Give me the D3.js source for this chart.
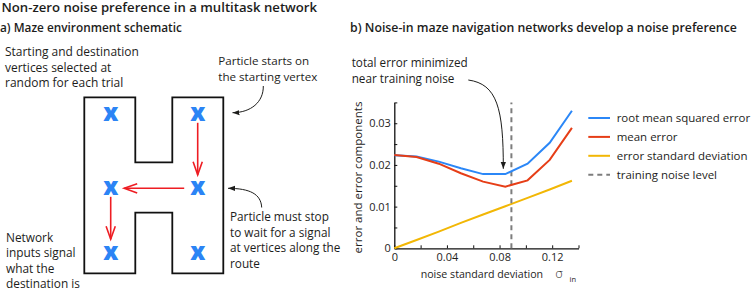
<!DOCTYPE html>
<html><head><meta charset="utf-8">
<script src="https://cdn.jsdelivr.net/npm/d3@7"></script>
<style>body{margin:0;background:#fff} svg{display:block}</style>
</head><body><svg id="c" width="751" height="294"></svg>
<script>
// ---------- data ----------
const noiseLevels = [0, 0.0169, 0.0338, 0.0506, 0.0675, 0.0844, 0.1013, 0.1181, 0.135];
const rmseValues  = [0.0223, 0.0220, 0.0208, 0.0192, 0.0178, 0.0178, 0.0203, 0.0253, 0.0330];
const meanErrorValues = [0.0224, 0.0219, 0.0203, 0.0180, 0.0160, 0.0148, 0.0163, 0.0212, 0.0289];
const errorSDValues = [0, 0.0020, 0.0040, 0.0061, 0.0081, 0.0101, 0.0121, 0.0141, 0.0162];
const trainingNoise = 0.089;
const xTickValues = [0, 0.02, 0.04, 0.06, 0.08, 0.10, 0.12, 0.14];
const xTickLabels = ["0", "", "0.04", "", "0.08", "", "0.12", ""];
const yTickValues = [0, 0.005, 0.01, 0.015, 0.02, 0.025, 0.03, 0.035];
const yTickLabels = ["0", "", "0.01", "", "0.02", "", "0.03", ""];
const legendLabels = ["root mean squared error", "mean error", "error standard deviation", "training noise level"];
// maze schematic: vertices (column,row) and the example route
const mazeVertices = [[0,0],[1,0],[0,1],[1,1],[0,2],[1,2]];
const mazeRoute = [[1,0],[1,1],[0,1],[0,2]];

// ---------- setup ----------
const FONT = "'Open Sans', 'Noto Sans', sans-serif";
const INK = "#1d1d1b";
const svg = d3.select("#c").style("font-family", FONT);
const defs = svg.append("defs");
defs.append("marker").attr("id","ah").attr("markerUnits","userSpaceOnUse")
  .attr("markerWidth",9).attr("markerHeight",7).attr("refX",7).attr("refY",3.5)
  .attr("orient","auto")
  .append("path").attr("d","M0,0.8 L7,3.5 L0,6.2 Z").attr("fill",INK);

function textBlock(lines, x, baselines, refIndex, targetWidth, weight) {
  const g = svg.append("g");
  const ts = lines.map((s, i) => g.append("text").attr("x", x).attr("y", baselines[i])
      .attr("font-size", 12).attr("font-weight", weight || 400).attr("fill", INK).text(s));
  const w = ts[refIndex].node().getComputedTextLength();
  const fs = 12 * targetWidth / w;
  ts.forEach(t => t.attr("font-size", fs));
  return g;
}

// ---------- titles ----------
textBlock(["Non-zero noise preference in a multitask network"], 1.5, [12], 0, 316, 600);
textBlock(["a) Maze environment schematic"], 0, [32], 0, 182, 600);
textBlock(["b) Noise-in maze navigation networks develop a noise preference"], 350, [32], 0, 387, 600);

// ---------- panel a: maze ----------
const colX = d3.scalePoint().domain([0,1]).range([110.7, 197.7]);
const rowY = d3.scaleOrdinal().domain([0,1,2]).range([114.3, 188.3, 252.7]);
const maze = {left: 84.3, right: 223.3, top: 97.3, bottom: 273.3, notchL: 135.3, notchR: 172.3, notchTop: 162.3, notchBottom: 212.7};
const outline = d3.path();
outline.moveTo(maze.left, maze.top);
outline.lineTo(maze.notchL, maze.top); outline.lineTo(maze.notchL, maze.notchTop);
outline.lineTo(maze.notchR, maze.notchTop); outline.lineTo(maze.notchR, maze.top);
outline.lineTo(maze.right, maze.top); outline.lineTo(maze.right, maze.bottom);
outline.lineTo(maze.notchR, maze.bottom); outline.lineTo(maze.notchR, maze.notchBottom);
outline.lineTo(maze.notchL, maze.notchBottom); outline.lineTo(maze.notchL, maze.bottom);
outline.lineTo(maze.left, maze.bottom); outline.closePath();
svg.append("path").attr("d", outline.toString()).attr("fill","none")
  .attr("stroke", "#111").attr("stroke-width", 1.8).attr("stroke-linejoin","miter");

svg.append("g").selectAll("text").data(mazeVertices).join("text")
  .attr("x", d => colX(d[0])).attr("y", d => rowY(d[1]) + 6.8)
  .attr("text-anchor","middle").attr("font-family","'Open Sans', sans-serif")
  .attr("font-weight",800).attr("font-size",24).attr("fill","#2b84f5").text("x");

const routeSegs = d3.pairs(mazeRoute);
const arrowG = svg.append("g").attr("stroke","#ee1d23").attr("stroke-width",1.6).attr("fill","none");
routeSegs.forEach(([a, b]) => {
  const x0 = colX(a[0]), y0 = rowY(a[1]), x1 = colX(b[0]), y1 = rowY(b[1]);
  const len = Math.hypot(x1-x0, y1-y0), ux = (x1-x0)/len, uy = (y1-y0)/len;
  const horiz = Math.abs(ux) > 0.5;
  const s0 = horiz ? 13.5 : 8.5, s1 = 13.5;
  const sx = x0 + ux*s0, sy = y0 + uy*s0, tx = x1 - ux*s1, ty = y1 - uy*s1;
  arrowG.append("line").attr("x1", sx).attr("y1", sy).attr("x2", tx).attr("y2", ty);
  const hl = 13, hw = 4.6, px = -uy, py = ux;
  arrowG.append("path").attr("d",
    `M${tx - ux*hl + px*hw},${ty - uy*hl + py*hw} L${tx},${ty} L${tx - ux*hl - px*hw},${ty - uy*hl - py*hw}`);
});

// annotations panel a
textBlock(["Starting and destination","vertices selected at","random for each trial"], 5, [56.3, 71.5, 86.8], 0, 134);
textBlock(["Particle starts on","the starting vertex"], 218.3, [65, 80.7], 0, 91);
textBlock(["Particle must stop","to wait for a signal","at vertices along the","route"], 230, [221, 236.6, 252.2, 267.8], 0, 99);
textBlock(["Network","inputs signal","what the","destination is"], 6, [241.7, 257.3, 272.8, 288.3], 3, 74);

svg.append("path").attr("d","M263.3,86 C263.6,102 251,112.6 232.5,112.7")
  .attr("fill","none").attr("stroke",INK).attr("stroke-width",1).attr("marker-end","url(#ah)");
svg.append("path").attr("d","M261.7,207.5 C261,194 250,188.4 228,188.3")
  .attr("fill","none").attr("stroke",INK).attr("stroke-width",1).attr("marker-end","url(#ah)");

// ---------- panel b: chart ----------
const x = d3.scaleLinear().domain([0, 0.14]).range([394.3, 578.5]);
const y = d3.scaleLinear().domain([0, 0.035]).range([248.3, 102.4]);

const xAxis = svg.append("g").attr("transform", `translate(0,${y(0)})`)
  .call(d3.axisBottom(x).tickValues(xTickValues).tickFormat((d,i) => xTickLabels[i])
    .tickSizeInner(-3).tickSizeOuter(0).tickPadding(5));
const yAxis = svg.append("g").attr("transform", `translate(${x(0)},0)`)
  .call(d3.axisLeft(y).tickValues(yTickValues).tickFormat((d,i) => yTickLabels[i])
    .tickSizeInner(-3).tickSizeOuter(0).tickPadding(3.5));
[xAxis, yAxis].forEach(g => {
  g.attr("font-family", FONT).attr("font-size", 12);
  g.selectAll("path.domain").attr("stroke", "#111").attr("stroke-width", 1.3);
  g.selectAll(".tick line").attr("stroke", "#111").attr("stroke-width", 1);
  g.selectAll(".tick text").attr("fill", INK);
});
{
  const ref = yAxis.selectAll(".tick text").filter((d,i) => i === 6).node();
  const fs = 12 * 21.7 / ref.getComputedTextLength();
  xAxis.attr("font-size", fs); yAxis.attr("font-size", fs);
}

const lineGen = d3.line().x((d, i) => x(noiseLevels[i])).y(d => y(d));
const seriesColors = ["#2b87f7", "#e63e17", "#f2b705"];
svg.append("path").attr("d", lineGen(errorSDValues)).attr("fill","none").attr("stroke", seriesColors[2]).attr("stroke-width", 2);
svg.append("line").attr("x1", x(trainingNoise)).attr("x2", x(trainingNoise))
  .attr("y1", y(0)).attr("y2", y(0.035)).attr("stroke", "#7d7d7d").attr("stroke-width", 2).attr("stroke-dasharray", "5,4");
svg.append("path").attr("d", lineGen(rmseValues)).attr("fill","none").attr("stroke", seriesColors[0]).attr("stroke-width", 2);
svg.append("path").attr("d", lineGen(meanErrorValues)).attr("fill","none").attr("stroke", seriesColors[1]).attr("stroke-width", 2);

// axis labels
textBlock(["noise standard deviation"], 420.7, [277.7], 0, 122.6);
svg.append("text").attr("x", 555).attr("y", 277.7).attr("font-size", 13).attr("fill", INK)
  .attr("font-family", "'DejaVu Sans', sans-serif").attr("font-weight", 300).text("σ");
svg.append("text").attr("x", 569.5).attr("y", 281.7).attr("font-size", 7.5).attr("fill", INK).text("in");
{
  const t = svg.append("text").attr("transform", "translate(362,177.5) rotate(-90)")
    .attr("text-anchor", "middle").attr("font-size", 12).attr("fill", INK).text("error and error components");
  t.attr("font-size", 12 * 152 / t.node().getComputedTextLength());
}

// annotation
textBlock(["total error minimized","near training noise"], 351.7, [67.3, 83.3], 0, 116);
svg.append("path").attr("d","M468.3,80 C497,84 503.5,108 503.3,168.8")
  .attr("fill","none").attr("stroke",INK).attr("stroke-width",1).attr("marker-end","url(#ah)");

// legend
const legendG = svg.append("g");
const legY = i => 118 + i * 18.9;
const legColors = [seriesColors[0], seriesColors[1], seriesColors[2], "#7d7d7d"];
legendLabels.forEach((lab, i) => {
  legendG.append("line").attr("x1", 588.3).attr("x2", 610).attr("y1", legY(i)).attr("y2", legY(i))
    .attr("stroke", legColors[i]).attr("stroke-width", 2).attr("stroke-dasharray", i === 3 ? "5,4" : null);
});
textBlock(legendLabels, 616.7, legendLabels.map((d, i) => legY(i) + 4.2), 2, 131);
</script></body></html>
